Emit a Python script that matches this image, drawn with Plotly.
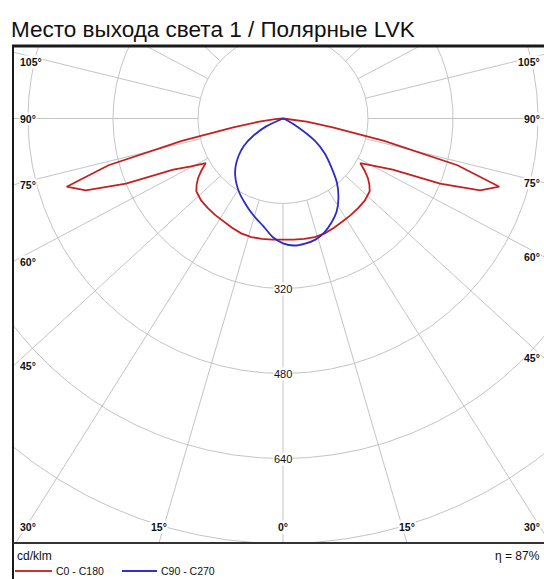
import numpy as np
import plotly.graph_objects as go

# ---------------- data ----------------
title_text = "Место выхода света 1 / Полярные LVK"
unit_text = "cd/klm"
eta_text = "η = 87%"
name_red = "C0 - C180"
name_blue = "C90 - C270"

gamma_red = [0, 5, 10, 15, 20, 25, 30, 35, 40, 45, 50, 52.5, 55, 57.5, 60,
             62.5, 65, 67.5, 70, 72.5, 75, 77.5, 80, 82.5, 85, 87.5, 90]
red_c0_c180 = [228, 229, 230, 231, 230, 227, 224, 222, 220, 218, 213, 205, 195, 182, 168,
               195, 228, 320, 395, 427, 340, 195, 95, 45, 15, 0, 0]

gamma_blue = [0, 5, 10, 15, 20, 25, 30, 35, 40, 45, 50, 55, 60, 65, 70, 75, 80, 85, 90]
blue_c90 = [235, 240, 239, 236, 228, 216, 202, 182, 158, 128, 103, 73, 32, 10, 0, 0, 0, 0, 0]
blue_c270 = [235, 224, 207, 195, 184, 173, 163, 152, 140, 126, 109, 90, 64, 35, 0, 0, 0, 0, 0]

ring_values = [160, 320, 480, 640, 800]
ring_labels = [320, 480, 640]
spoke_angles = list(range(0, 360, 15))
angle_labels = [0, 15, 30, 45, 60, 75, 90, 105]

# ---------------- geometry (pixels) ----------------
W, H = 544, 579
CX, CY = 283.0, 118.5
S = 85.0 / 160.0          # px per cd/klm
L, T, B, R = 13, 46, 543, 544
K = 1.09                  # horizontal stretch of the spoke grid

def px2x(px):
    return (px - CX) / S

def py2y(py):
    return (CY - py) / S

FONT = "Liberation Sans, Arial, sans-serif"
GRID = "#c4c4c4"

fig = go.Figure()

# rings
th = np.linspace(0, 2 * np.pi, 721)
rx, ry = [], []
for rv in ring_values:
    rx += list(rv * np.sin(th)) + [None]
    ry += list(rv * np.cos(th)) + [None]
fig.add_trace(go.Scatter(x=rx, y=ry, mode="lines", line=dict(color=GRID, width=1),
                         hoverinfo="skip", showlegend=False))

# spokes (start at inner ring)
sx, sy = [], []
for a in spoke_angles:
    ar = np.radians(a)
    d = np.array([K * np.sin(ar), -np.cos(ar)])
    d = d / np.hypot(*d)
    sx += [ring_values[0] * d[0], 3000 * d[0], None]
    sy += [ring_values[0] * d[1], 3000 * d[1], None]
fig.add_trace(go.Scatter(x=sx, y=sy, mode="lines", line=dict(color=GRID, width=1),
                         hoverinfo="skip", showlegend=False))

# red curve C0 - C180 (symmetric)
g = np.radians(np.array(gamma_red))
r = np.array(red_c0_c180, dtype=float)
xr = np.concatenate([-(r * np.sin(g))[::-1], (r * np.sin(g))[1:]])
yr = np.concatenate([-(r * np.cos(g))[::-1], -(r * np.cos(g))[1:]])
fig.add_trace(go.Scatter(x=xr, y=yr, mode="lines", name=name_red,
                         line=dict(color="#c42020", width=1.8), showlegend=False))

# blue curve C90 - C270
gb = np.radians(np.array(gamma_blue))
bl = np.array(blue_c270, dtype=float)
br = np.array(blue_c90, dtype=float)
xb = np.concatenate([-(bl * np.sin(gb))[::-1], (br * np.sin(gb))[1:]])
yb = np.concatenate([-(bl * np.cos(gb))[::-1], -(br * np.cos(gb))[1:]])
fig.add_trace(go.Scatter(x=xb, y=yb, mode="lines", name=name_blue,
                         line=dict(color="#2b2bc8", width=1.8, shape="spline", smoothing=0.6),
                         showlegend=False))

annotations = []
# ring labels
for v in ring_labels:
    annotations.append(dict(x=0, y=-v, xref="x", yref="y", text=str(v), showarrow=False,
                            font=dict(family=FONT, size=11, color="#111"),
                            bgcolor="white", borderpad=0, xanchor="center", yanchor="middle"))

# angle labels at spoke / frame intersections
def frame_hit(a, side):
    ar = np.radians(a)
    dx = side * K * np.sin(ar)
    dy = np.cos(ar)           # pixel y grows downward
    ts = []
    if dx < -1e-9:
        ts.append(((L - CX) / dx, "L"))
    if dx > 1e-9:
        ts.append(((R - CX) / dx, "R"))
    if dy > 1e-9:
        ts.append(((B - CY) / dy, "B"))
    if dy < -1e-9:
        ts.append(((T - CY) / dy, "T"))
    t, edge = min(ts)
    return CX + t * dx, CY + t * dy, edge

for a in angle_labels:
    for side in ([1] if a == 0 else [-1, 1]):
        hx, hy, edge = frame_hit(a, side)
        txt = f"<b>{a}°</b>"
        if edge == "B":
            lx = min(max(hx, L + 16), R - 14)
            ly = B - 16
            xa = "center"
            if lx <= L + 16:
                lx, xa = L + 6, "left"
            if lx >= R - 14:
                lx, xa = R - 3, "right"
        elif edge == "L":
            lx, ly, xa = L + 6, min(max(hy, T + 16), B - 16), "left"
        else:
            lx, ly, xa = R - 3, min(max(hy, T + 16), B - 16), "right"
        annotations.append(dict(x=px2x(lx), y=py2y(ly), xref="x", yref="y", text=txt,
                                showarrow=False, xanchor=xa, yanchor="middle",
                                font=dict(family=FONT, size=10.5, color="#111"),
                                bgcolor="white", borderpad=0))

def paper(px, py):
    return px / W, 1 - py / H

# title
tx, ty = paper(9, 30)
annotations.append(dict(x=tx, y=ty, xref="paper", yref="paper", text=title_text, showarrow=False,
                        xanchor="left", yanchor="middle",
                        font=dict(family=FONT, size=22.5, color="#111")))
# unit and efficiency
ux, uy = paper(15, 556)
annotations.append(dict(x=ux, y=uy, xref="paper", yref="paper", text=unit_text, showarrow=False,
                        xanchor="left", yanchor="middle", font=dict(family=FONT, size=12, color="#111")))
ex, ey = paper(542, 556)
annotations.append(dict(x=ex, y=ey, xref="paper", yref="paper", text=eta_text, showarrow=False,
                        xanchor="right", yanchor="middle", font=dict(family=FONT, size=12, color="#111")))
# legend texts
for nm, px0 in [(name_red, 54), (name_blue, 159)]:
    lx_, ly_ = paper(px0, 571)
    annotations.append(dict(x=lx_, y=ly_, xref="paper", yref="paper", text=nm, showarrow=False,
                            xanchor="left", yanchor="middle",
                            font=dict(family=FONT, size=10.5, color="#111")))

shapes = []
def pline(x0, y0, x1, y1, color, width):
    a0, b0 = paper(x0, y0)
    a1, b1 = paper(x1, y1)
    shapes.append(dict(type="line", xref="paper", yref="paper", x0=a0, y0=b0, x1=a1, y1=b1,
                       line=dict(color=color, width=width)))

pline(L - 1, T, W + 2, T, "#1a1a1a", 3)
pline(L, T, L, H + 2, "#1a1a1a", 2)
pline(L, B, W + 2, B, "#333333", 2)
pline(15, 571, 52, 571, "#d03030", 2.2)
pline(122, 571, 157, 571, "#3030d0", 2.2)

fig.update_layout(
    width=W, height=H, margin=dict(l=0, r=0, t=0, b=0),
    paper_bgcolor="white", plot_bgcolor="white",
    xaxis=dict(domain=[L / W, 1], range=[px2x(L), px2x(R)], visible=False, fixedrange=True),
    yaxis=dict(domain=[1 - B / H, 1 - T / H], range=[py2y(B), py2y(T)], visible=False, fixedrange=True),
    annotations=annotations, shapes=shapes, showlegend=False,
)

fig.write_html("out.html", config={"displayModeBar": False},
               post_script="document.body.style.margin='0px';document.body.style.overflow='hidden';")
